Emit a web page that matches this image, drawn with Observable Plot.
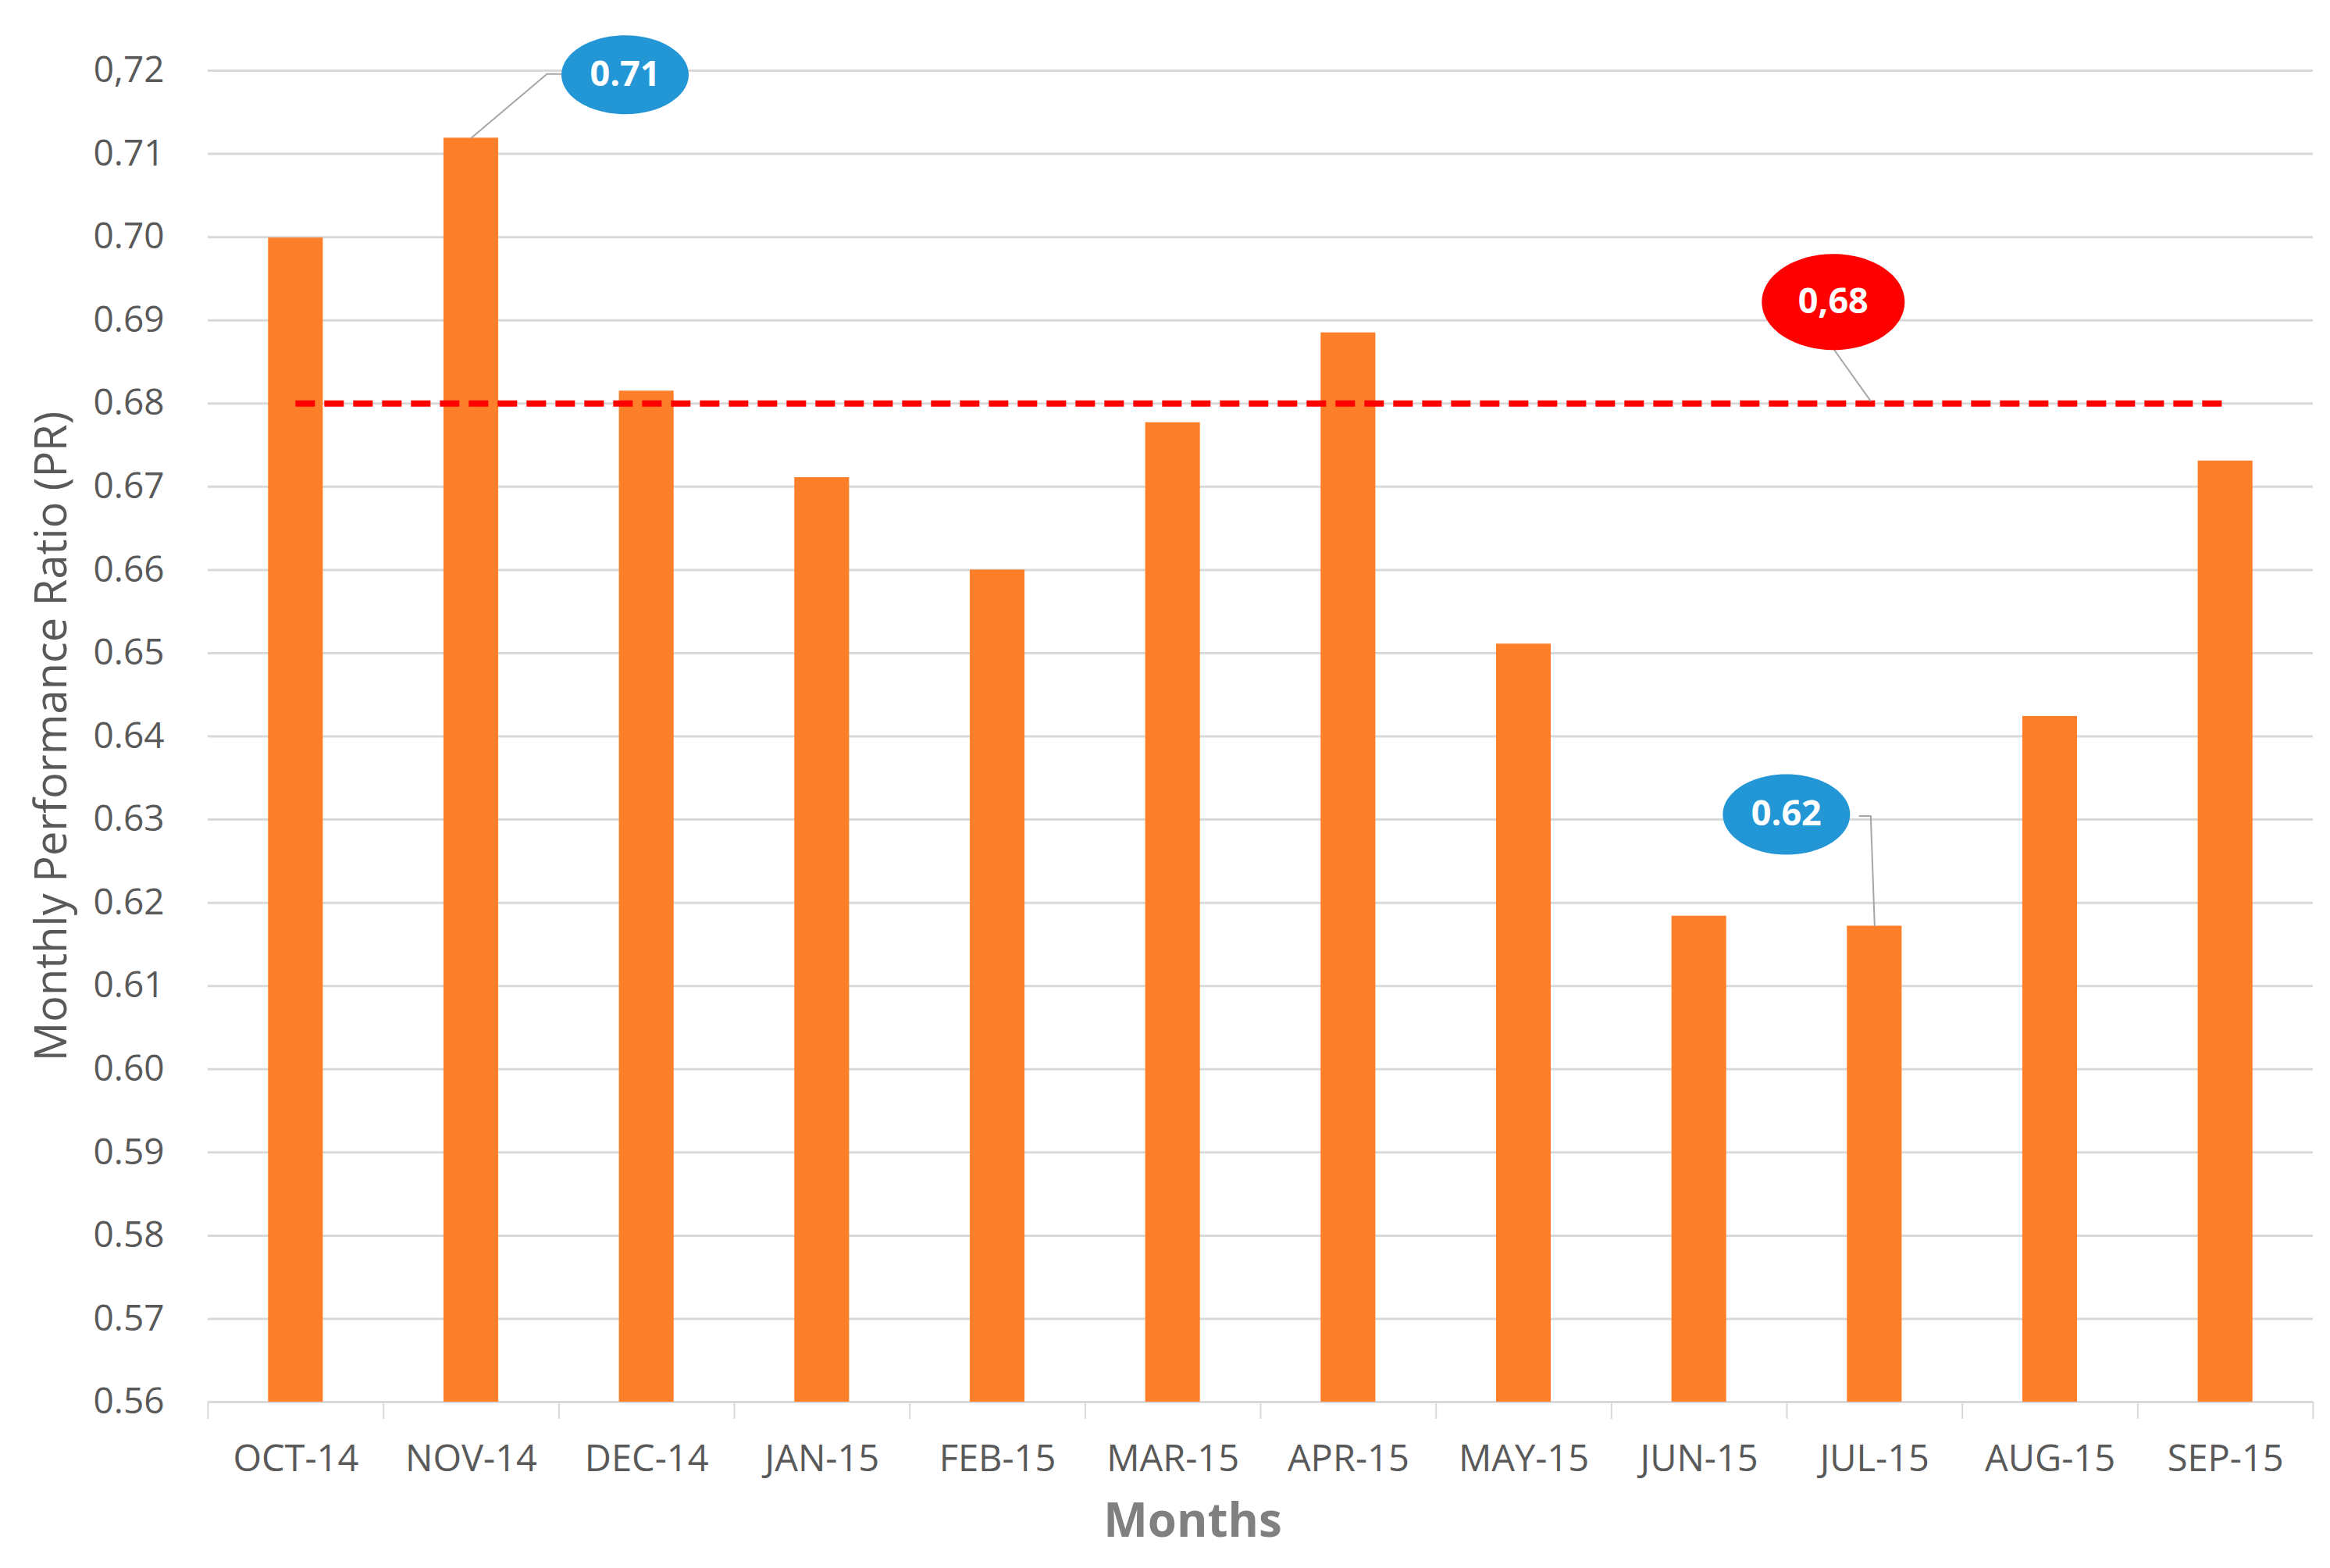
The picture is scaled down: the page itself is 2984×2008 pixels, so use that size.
<!DOCTYPE html>
<html>
<head>
<meta charset="utf-8">
<script src="https://cdn.jsdelivr.net/npm/d3@7"></script>
<script src="https://cdn.jsdelivr.net/npm/@observablehq/plot@0.6"></script>
<style>
  html, body { margin: 0; padding: 0; background: #ffffff; }
</style>
</head>
<body>
<script>
// ---- data ----
const months = ["OCT-14","NOV-14","DEC-14","JAN-15","FEB-15","MAR-15","APR-15","MAY-15","JUN-15","JUL-15","AUG-15","SEP-15"];
const prValues = [0.6999, 0.7119, 0.6815, 0.6711, 0.6600, 0.6777, 0.6885, 0.6511, 0.6184, 0.6172, 0.6424, 0.6731];
const targetPR = 0.68;
const yTicks = [0.56,0.57,0.58,0.59,0.60,0.61,0.62,0.63,0.64,0.65,0.66,0.67,0.68,0.69,0.70,0.71,0.72];
const yTickLabels = ["0.56","0.57","0.58","0.59","0.60","0.61","0.62","0.63","0.64","0.65","0.66","0.67","0.68","0.69","0.70","0.71","0,72"];
const maxLabel = "0.71";
const minLabel = "0.62";
const targetLabel = "0,68";
const yTitle = "Monthly Performance Ratio (PR)";
const xTitle = "Months";

const table = months.map((m, i) => ({month: m, pr: prValues[i]}));
const maxRow = [table[1]];
const minRow = [table[9]];
const targetRow = [{month: months[9], pr: targetPR}];

// ---- layout ----
const W = 2984, H = 2008;
const mL = 266, mR = 22, mT = 90, mB = 213;
const padInner = 0.688, padOuter = 0.344;
const step = (W - mL - mR) / months.length;
const bandW = step * (1 - padInner);
const plotH = H - mT - mB;

const font = "'Open Sans', 'Noto Sans', sans-serif";
const orange = "#fd7f29";
const blue = "#2397d6";
const red = "#ff0000";
const grid = "#d9d9d9";
const leader = "#a6a6a6";

function ellipseSymbol(rx, ry) {
  const k = 0.5523;
  return {draw(ctx) {
    ctx.moveTo(rx, 0);
    ctx.bezierCurveTo(rx, k * ry, k * rx, ry, 0, ry);
    ctx.bezierCurveTo(-k * rx, ry, -rx, k * ry, -rx, 0);
    ctx.bezierCurveTo(-rx, -k * ry, -k * rx, -ry, 0, -ry);
    ctx.bezierCurveTo(k * rx, -ry, rx, -k * ry, rx, 0);
    ctx.closePath();
  }};
}
function polylineSymbol(pts) {
  return {draw(ctx) {
    ctx.moveTo(pts[0][0], pts[0][1]);
    for (let i = 1; i < pts.length; ++i) ctx.lineTo(pts[i][0], pts[i][1]);
  }};
}

const chart = Plot.plot({
  width: W,
  height: H,
  marginLeft: mL,
  marginRight: mR,
  marginTop: mT,
  marginBottom: mB,
  style: {fontFamily: font, background: "#ffffff", overflow: "visible"},
  x: {domain: months, paddingInner: padInner, paddingOuter: padOuter, round: false, axis: null},
  y: {domain: [0.56, 0.72], axis: null},
  marks: [
    Plot.gridY(yTicks, {stroke: grid, strokeOpacity: 1, strokeWidth: 3}),
    Plot.axisY(yTicks, {
      tickSize: 0, tickPadding: 56, fontSize: 46, color: "#595959", label: null,
      tickFormat: d => yTickLabels[yTicks.indexOf(d)]
    }),
    Plot.axisX({tickSize: 0, tickPadding: 55, fontSize: 47, color: "#595959", label: null}),
    Plot.ruleX(months, {dx: -step / 2, stroke: grid, strokeWidth: 2, insetTop: plotH, insetBottom: -22}),
    Plot.ruleX([months[months.length - 1]], {dx: step / 2, stroke: grid, strokeWidth: 2, insetTop: plotH, insetBottom: -22}),
    Plot.barY(table, {x: "month", y1: 0.56, y2: "pr", fill: orange}),
    Plot.ruleY([targetPR], {
      x1: () => months[0], x2: () => months[months.length - 1],
      insetLeft: bandW / 2, insetRight: bandW / 2,
      stroke: red, strokeWidth: 8, strokeDasharray: "25,12"
    }),
    // max callout
    Plot.dot(maxRow, {x: "month", y: "pr", symbol: polylineSymbol([[0, 0], [97, -82], [116, -82]]), fill: "none", stroke: leader, strokeWidth: 2}),
    Plot.dot(maxRow, {x: "month", y: "pr", dx: 197, dy: -81, symbol: ellipseSymbol(81.5, 50.5), fill: blue, stroke: "none"}),
    Plot.text(maxRow, {x: "month", y: "pr", dx: 197, dy: -81, text: () => maxLabel, fill: "#ffffff", fontWeight: "bold", fontSize: 45}),
    // min callout
    Plot.dot(minRow, {x: "month", y: "pr", symbol: polylineSymbol([[0, 0], [-5, -141], [-20, -141]]), fill: "none", stroke: leader, strokeWidth: 2}),
    Plot.dot(minRow, {x: "month", y: "pr", dx: -113, dy: -143, symbol: ellipseSymbol(81.5, 51.5), fill: blue, stroke: "none"}),
    Plot.text(minRow, {x: "month", y: "pr", dx: -113, dy: -143, text: () => minLabel, fill: "#ffffff", fontWeight: "bold", fontSize: 45}),
    // target callout
    Plot.dot(targetRow, {x: "month", y: "pr", symbol: polylineSymbol([[-5, -3], [-52, -69]]), fill: "none", stroke: leader, strokeWidth: 2}),
    Plot.dot(targetRow, {x: "month", y: "pr", dx: -53, dy: -130, symbol: ellipseSymbol(91.5, 61.5), fill: red, stroke: "none"}),
    Plot.text(targetRow, {x: "month", y: "pr", dx: -53, dy: -130, text: () => targetLabel, fill: "#ffffff", fontWeight: "bold", fontSize: 45}),
    // titles
    Plot.text([yTitle], {frameAnchor: "left", textAnchor: "middle", lineAnchor: "middle", dx: -199, rotate: -90, fontSize: 56, fill: "#595959"}),
    Plot.text([xTitle], {frameAnchor: "bottom", textAnchor: "middle", lineAnchor: "middle", dx: -87, dy: 153, fontSize: 60, fontWeight: "bold", fill: "#808080"})
  ]
});

document.body.appendChild(chart);
</script>
</body>
</html>
